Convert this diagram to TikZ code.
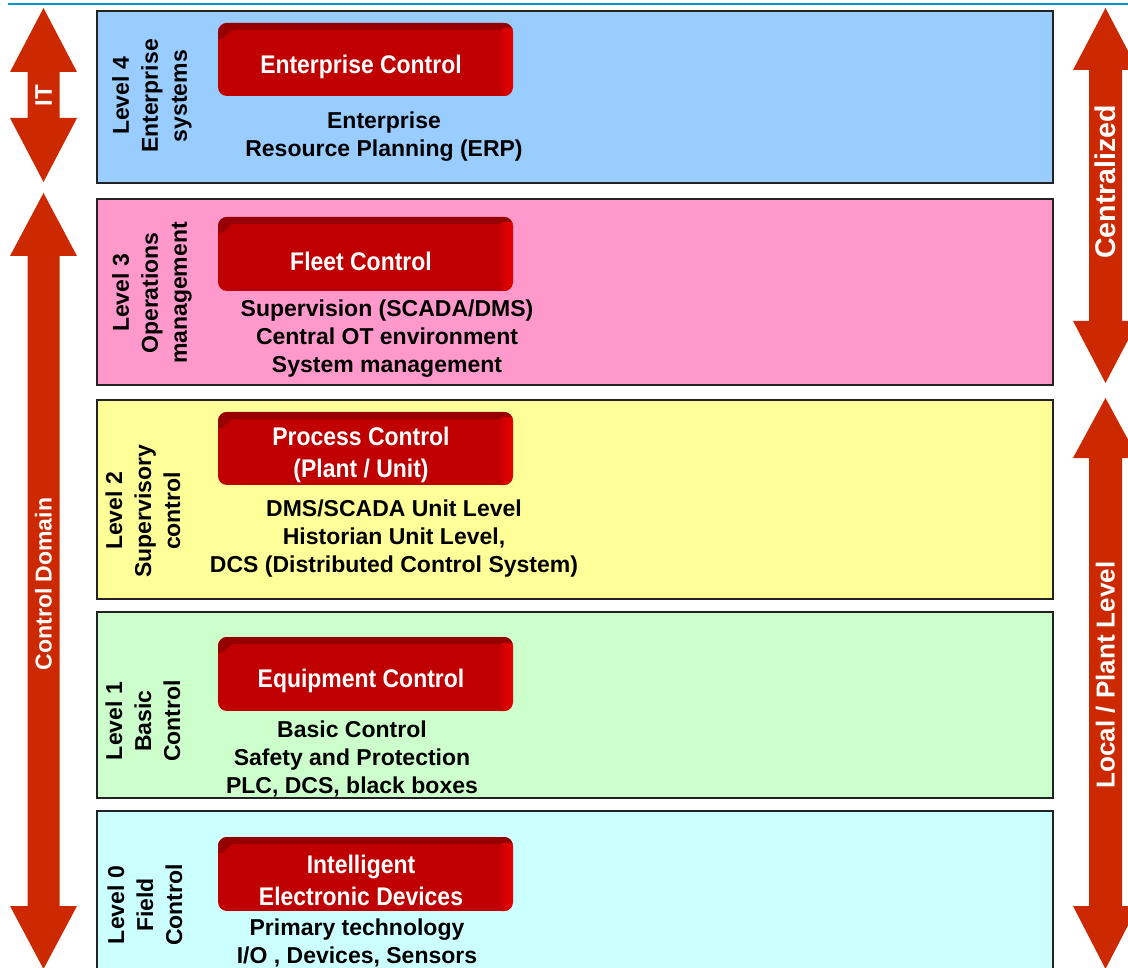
\documentclass[tikz,border=0pt]{standalone}
\usepackage{fontspec}
\setmainfont{Liberation Sans}
\newfontfamily\condfont{Liberation Sans}[FakeStretch=0.9]
\definecolor{arrowred}{RGB}{204,41,0}
\definecolor{bluerule}{RGB}{0,150,210}
\definecolor{boxline}{RGB}{34,34,34}
\definecolor{lfour}{RGB}{153,204,255}
\definecolor{lthree}{RGB}{255,153,204}
\definecolor{ltwo}{RGB}{255,255,153}
\definecolor{lone}{RGB}{204,255,204}
\definecolor{lzero}{RGB}{204,255,255}
\definecolor{btnmain}{RGB}{192,0,0}
\definecolor{btntop}{RGB}{150,0,0}
\definecolor{btnsideA}{RGB}{205,0,0}
\definecolor{btnsideB}{RGB}{232,0,0}
\tikzset{
  levelbox/.style={draw=boxline, line width=2pt, anchor=north west, minimum width=956pt, inner sep=0pt},
  lvllabel/.style={rotate=90, align=center, inner sep=0pt, font=\fontsize{23}{29}\selectfont\bfseries, text=black},
  desc/.style={align=center, inner sep=0pt, font=\fontsize{23}{28}\selectfont\bfseries, text=black},
  btntext/.style={align=center, inner sep=0pt, text=white, font=\condfont\bfseries\fontsize{25.5}{32}\selectfont},
  arrowtext/.style={rotate=90, inner sep=0pt, text=white, font=\fontsize{24}{28}\selectfont\bfseries},
}
\newcommand{\redbutton}[2]{%
  \begin{scope}
    \clip[rounded corners=9pt] (218,#1) rectangle (513,#2);
    \fill[btnmain] (218,#1) rectangle (513,#2);
    \fill[btntop] (218,#1) -- (513,#1) -- (513,#1+7) -- (232,#1+7) -- (222,#1+16) -- (218,#1+16) -- cycle;
    \shade[left color=btnsideA, right color=btnsideB] (501,#1+6) rectangle (513,#2);
  \end{scope}}
\begin{document}
\begin{tikzpicture}[x=1pt,y=-1pt]
\useasboundingbox (0,0) rectangle (1128,968);
\clip (0,0) rectangle (1128,968);
\fill[white] (0,0) rectangle (1128,968);

% top rule
\draw[bluerule, line width=2pt] (8,4) -- (1128,4);

% level boxes
\node[levelbox, fill=lfour,  minimum height=172pt] (box4) at (96,10) {};
\node[levelbox, fill=lthree, minimum height=186pt] (box3) at (96,198) {};
\node[levelbox, fill=ltwo,   minimum height=199pt] (box2) at (96,399) {};
\node[levelbox, fill=lone,   minimum height=186pt] (box1) at (96,611) {};
\node[levelbox, fill=lzero,  minimum height=190pt] (box0) at (96,810) {};

% left arrows
\fill[arrowred] (43.5,8) -- (77,72) -- (59.5,72) -- (59.5,118) -- (77,118) -- (43.5,182)
  -- (10,118) -- (27.5,118) -- (27.5,72) -- (10,72) -- cycle;
\node[arrowtext] (itlbl) at (43.5,96) {IT};
\fill[arrowred] (43.5,193) -- (77,256) -- (59.5,256) -- (59.5,906) -- (77,906) -- (43.5,969)
  -- (10,906) -- (27.5,906) -- (27.5,256) -- (10,256) -- cycle;
\node[arrowtext, font=\fontsize{23}{28}\selectfont\bfseries] (cdlbl) at (43.5,584) {Control Domain};

% right arrows
\fill[arrowred] (1105.5,8) -- (1138,70) -- (1122,70) -- (1122,321) -- (1138,321) -- (1105.5,383)
  -- (1073,321) -- (1089,321) -- (1089,70) -- (1073,70) -- cycle;
\node[arrowtext, font=\fontsize{28.5}{30}\selectfont\bfseries] (cenlbl) at (1105.5,182) {Centralized};
\fill[arrowred] (1105.5,398) -- (1138,458) -- (1122,458) -- (1122,906) -- (1138,906) -- (1105.5,969)
  -- (1073,906) -- (1089,906) -- (1089,458) -- (1073,458) -- cycle;
\node[arrowtext, font=\fontsize{26}{30}\selectfont\bfseries] (loclbl) at (1105.5,675) {Local / Plant Level};

% buttons
\redbutton{23}{96}
\node[btntext] (b4) at (361,67) {Enterprise Control};
\redbutton{217}{291}
\node[btntext] (b3) at (361,261) {Fleet Control};
\redbutton{412}{485}
\node[btntext] (b2) at (361,455) {Process Control\\(Plant / Unit)};
\redbutton{637}{711}
\node[btntext] (b1) at (361,681) {Equipment Control};
\redbutton{837}{911}
\node[btntext] (b0) at (361,880) {Intelligent\\Electronic Devices};

% level labels
\node[lvllabel] (lab4) at (152,96) {Level 4\\Enterprise\\systems};
\node[lvllabel] (lab3) at (152,293) {Level 3\\Operations\\management};
\node[lvllabel] (lab2) at (143,511) {Level 2\\Supervisory\\control};
\node[lvllabel] (lab1) at (143,721) {Level 1\\Basic\\Control};
\node[lvllabel] (lab0) at (145,905) {Level 0\\Field\\Control};

% descriptions
\node[desc] (d4) at (384,137) {Enterprise\\Resource Planning (ERP)};
\node[desc] (d3) at (387,339) {Supervision (SCADA/DMS)\\Central OT environment\\System management};
\node[desc] (d2) at (394,539) {DMS/SCADA Unit Level\\Historian Unit Level,\\DCS (Distributed Control System)};
\node[desc] (d1) at (352,759) {Basic Control\\Safety and Protection\\PLC, DCS, black boxes};
\node[desc] (d0) at (357,943) {Primary technology\\I/O , Devices, Sensors};
\end{tikzpicture}
\end{document}
